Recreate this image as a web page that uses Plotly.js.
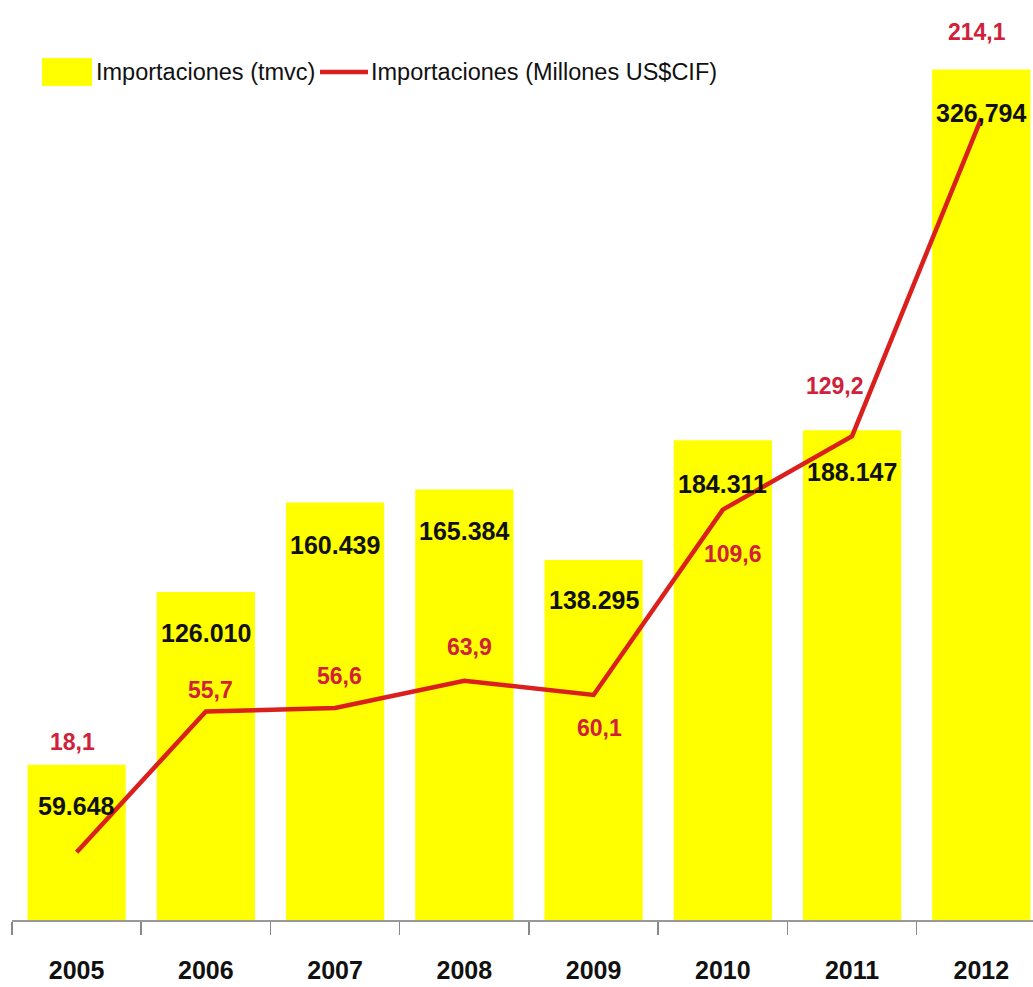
<!DOCTYPE html>
<html>
<head>
<meta charset="utf-8">
<script src="https://cdn.plot.ly/plotly-3.0.1.min.js"></script>
<style>html,body{margin:0;padding:0;background:#fff;}#chart{width:1033px;height:987px;}</style>
</head>
<body>
<div id="chart"></div>
<script>
// ---- data ----
const years = ["2005","2006","2007","2008","2009","2010","2011","2012"];
const tmvc = [59648, 126010, 160439, 165384, 138295, 184311, 188147, 326794];
const tmvcLabels = ["59.648","126.010","160.439","165.384","138.295","184.311","188.147","326,794"];
const usdCif = [18.1, 55.7, 56.6, 63.9, 60.1, 109.6, 129.2, 214.1];
const usdCifLabels = ["18,1","55,7","56,6","63,9","60,1","109,6","129,2","214,1"];
const seriesNames = ["Importaciones (tmvc)", "Importaciones (Millones US$CIF)"];

// ---- styling (label offsets in px) ----
const barLabelShift = [-41, -41, -43, -41, -40, -44, -42, -43];
const lineLabelShift = [110, 21, 32, 34, -33, -44, 50, 86];
const lineLabelXShift = [-4, 5, 4, 5, 6, 10, -17, -4];
const FONT = '"Liberation Sans", Arial, sans-serif';
const RED_TEXT = '#D0203A';
const RED_LINE = '#DA1F1D';

// plot area: left 12px, top 0, height 920px, width 1021px
const PL = 12, PW = 1021, PH = 920;
const px2x = p => (p - PL) / PW;
const py2y = p => (PH - p) / PH;

const annotations = [];
years.forEach((y, i) => {
  annotations.push({
    x: i, y: tmvc[i], xref: 'x', yref: 'y', text: '<b>' + tmvcLabels[i] + '</b>',
    showarrow: false, yanchor: 'middle', yshift: barLabelShift[i],
    font: {family: FONT, size: 25, color: '#111'}
  });
  annotations.push({
    x: i, y: usdCif[i], xref: 'x', yref: 'y2', text: '<b>' + usdCifLabels[i] + '</b>',
    showarrow: false, yanchor: 'middle', yshift: lineLabelShift[i], xshift: lineLabelXShift[i],
    font: {family: FONT, size: 23, color: RED_TEXT}
  });
});

// custom legend (large swatches as in the original)
annotations.push({
  xref: 'paper', yref: 'paper', x: px2x(94), y: py2y(72), xanchor: 'left', yanchor: 'middle',
  text: seriesNames[0], showarrow: false, font: {family: FONT, size: 23.5, color: '#111'}
});
annotations.push({
  xref: 'paper', yref: 'paper', x: px2x(369), y: py2y(72), xanchor: 'left', yanchor: 'middle',
  text: seriesNames[1], showarrow: false, font: {family: FONT, size: 23.5, color: '#111'}
});
const shapes = [
  {type: 'rect', xref: 'paper', yref: 'paper', x0: px2x(42), x1: px2x(92), y0: py2y(86), y1: py2y(58),
   fillcolor: '#FFFF00', line: {width: 0}},
  {type: 'line', xref: 'paper', yref: 'paper', x0: px2x(320), x1: px2x(368), y0: py2y(72), y1: py2y(72),
   line: {color: RED_LINE, width: 4.5}}
];

const traces = [
  {
    type: 'bar', name: seriesNames[0], x: years, y: tmvc,
    marker: {color: '#FFFF00'}, showlegend: false
  },
  {
    type: 'scatter', mode: 'lines', name: seriesNames[1],
    x: years, y: usdCif, yaxis: 'y2', showlegend: false,
    line: {color: RED_LINE, width: 4.5}
  }
];

const layout = {
  width: 1033, height: 987,
  margin: {l: 12, r: 0, t: 0, b: 67},
  paper_bgcolor: '#fff', plot_bgcolor: '#fff',
  bargap: 0.24,
  showlegend: false,
  xaxis: {
    type: 'category', range: [-0.5, 7.4],
    showline: true, linecolor: '#999', linewidth: 2,
    ticks: 'outside', tickson: 'boundaries', ticklen: 13, tickcolor: '#888', tickwidth: 1.5,
    showgrid: false, zeroline: false,
    tickfont: {family: FONT, size: 25, color: '#111', weight: 'bold'},
    ticklabelstandoff: 27
  },
  yaxis: {
    range: [0, 353500], visible: false, showgrid: false, zeroline: false
  },
  yaxis2: {
    range: [0, 245.7], overlaying: 'y', side: 'right', visible: false,
    showgrid: false, zeroline: false
  },
  annotations: annotations,
  shapes: shapes,
  font: {family: FONT}
};

Plotly.newPlot('chart', traces, layout, {displayModeBar: false, staticPlot: true});
</script>
</body>
</html>
